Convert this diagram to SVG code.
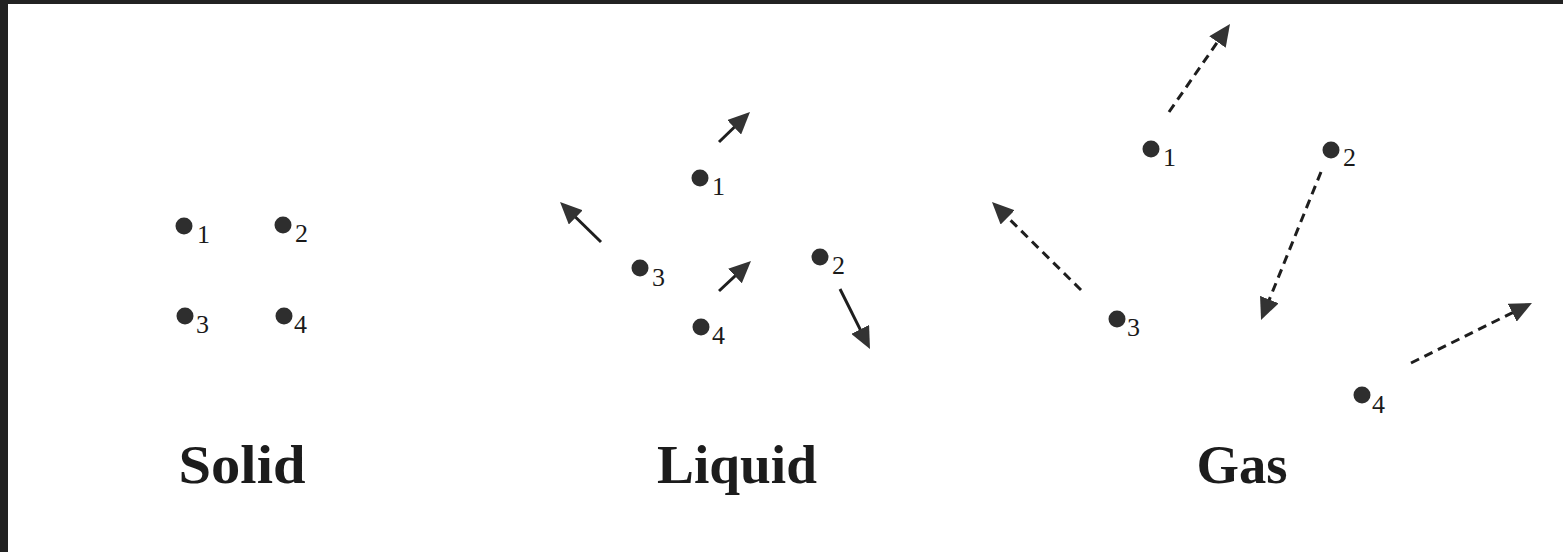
<svg xmlns="http://www.w3.org/2000/svg" width="1563" height="552" viewBox="0 0 1563 552">
  <style>
    .dot { fill: #2e2e2e; }
    .num { font-family: "Liberation Serif", "Times New Roman", serif; font-size: 26px; fill: #1a1a1a; }
    .title { font-family: "Liberation Serif", "Times New Roman", serif; font-size: 54px; font-weight: bold; fill: #1c1c1c; text-anchor: middle; }
    .arr { stroke: #1e1e1e; stroke-width: 3; fill: none; marker-end: url(#head); }
    .dash { stroke-dasharray: 9 6; }
  </style>
  <defs>
    <marker id="head" viewBox="0 0 22 20" refX="12" refY="10" markerWidth="22" markerHeight="20" markerUnits="userSpaceOnUse" orient="auto">
      <path d="M0,0 L22,10 L0,20 Z" fill="#333333"/>
    </marker>
  </defs>
  <rect x="0" y="0" width="1563" height="552" fill="#ffffff"/>
  <rect x="0" y="0" width="1563" height="4" fill="#222222"/>
  <rect x="0" y="0" width="8" height="552" fill="#222222"/>

  <!-- Solid -->
  <g id="solid-1"><circle class="dot" cx="184" cy="226" r="8.5"/><text class="num" x="197" y="243">1</text></g>
  <g id="solid-2"><circle class="dot" cx="283" cy="225" r="8.5"/><text class="num" x="295" y="242">2</text></g>
  <g id="solid-3"><circle class="dot" cx="185" cy="316" r="8.5"/><text class="num" x="196" y="333">3</text></g>
  <g id="solid-4"><circle class="dot" cx="284" cy="316" r="8.5"/><text class="num" x="294" y="333">4</text></g>
  <g id="solid-title"><text class="title" x="242" y="483" textLength="127" lengthAdjust="spacingAndGlyphs">Solid</text></g>

  <!-- Liquid -->
  <g id="liquid-1"><circle class="dot" cx="700" cy="178" r="8.5"/><text class="num" x="712" y="195">1</text></g>
  <g id="liquid-2"><circle class="dot" cx="820" cy="257" r="8.5"/><text class="num" x="832" y="274">2</text></g>
  <g id="liquid-3"><circle class="dot" cx="640" cy="268" r="8.5"/><text class="num" x="652" y="286">3</text></g>
  <g id="liquid-4"><circle class="dot" cx="701" cy="327" r="8.5"/><text class="num" x="712" y="344">4</text></g>
  <g id="liquid-title"><text class="title" x="737" y="483" textLength="160" lengthAdjust="spacingAndGlyphs">Liquid</text></g>

  <!-- Gas -->
  <g id="gas-1"><circle class="dot" cx="1151" cy="149" r="8.5"/><text class="num" x="1163" y="166">1</text></g>
  <g id="gas-2"><circle class="dot" cx="1331" cy="150" r="8.5"/><text class="num" x="1343" y="166">2</text></g>
  <g id="gas-3"><circle class="dot" cx="1117" cy="319" r="8.5"/><text class="num" x="1127" y="336">3</text></g>
  <g id="gas-4"><circle class="dot" cx="1362" cy="395" r="8.5"/><text class="num" x="1372" y="413">4</text></g>
  <g id="gas-title"><text class="title" x="1242" y="483" textLength="91" lengthAdjust="spacingAndGlyphs">Gas</text></g>

  <g id="connectors">
    <line class="arr" x1="719" y1="142" x2="742.8" y2="119"/>
    <line class="arr" x1="601" y1="242" x2="567.2" y2="209"/>
    <line class="arr" x1="719" y1="291" x2="743.7" y2="267.8"/>
    <line class="arr" x1="840" y1="289" x2="865.5" y2="340.1"/>
    <line class="arr dash" x1="1169" y1="112" x2="1224.3" y2="32.2"/>
    <line class="arr dash" x1="1321" y1="172" x2="1264.8" y2="310.7"/>
    <line class="arr dash" x1="1081" y1="290" x2="999.1" y2="209"/>
    <line class="arr dash" x1="1411" y1="363" x2="1523" y2="307.4"/>
  </g>
</svg>
